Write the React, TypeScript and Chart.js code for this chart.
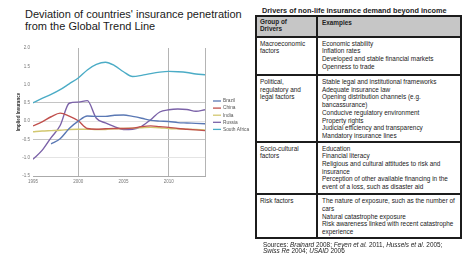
import React, { useEffect, useRef } from 'react';
import { Chart, registerables } from 'chart.js';

Chart.register(...registerables);

const years = [1995, 1996, 1997, 1998, 1999, 2000, 2001, 2002, 2003, 2004, 2005, 2006, 2007, 2008, 2009, 2010, 2011, 2012, 2013, 2014];
const xTickYears = [1995, 2000, 2005, 2010, 2014];
const xTickLabels = ['1995', '2000', '2005', '2010', ''];
const seriesNames = ['Brazil', 'China', 'India', 'Russia', 'South Africa'];
const seriesColors = ['#5a78b4', '#c0504d', '#d2c870', '#7b62a8', '#4bacc6'];

const brazil = [null, null, -0.62, -0.48, -0.2, 0.0, 0.14, 0.13, 0.13, 0.16, 0.17, 0.13, 0.08, 0.02, 0.0, -0.01, -0.04, -0.05, -0.06, -0.07];
const china = [-0.13, -0.02, 0.12, 0.22, 0.14, 0.01, -0.2, -0.22, -0.21, -0.2, -0.2, -0.19, -0.15, -0.13, -0.15, -0.17, -0.2, -0.22, -0.24, -0.26];
const india = [-0.29, -0.27, -0.26, -0.25, -0.23, -0.22, -0.22, -0.23, -0.23, -0.21, -0.2, -0.19, -0.18, -0.17, -0.18, -0.2, -0.21, -0.22, -0.23, -0.24];
const russia = [-1.04, -0.8, -0.45, -0.12, 0.49, 0.52, 0.56, 0.08, -0.05, -0.15, -0.23, -0.22, -0.14, 0.04, 0.25, 0.31, 0.33, 0.32, 0.27, 0.31];
const southAfrica = [0.5, 0.62, 0.73, 0.86, 1.02, 1.18, 1.4, 1.55, 1.61, 1.52, 1.35, 1.22, 1.25, 1.3, 1.34, 1.36, 1.35, 1.33, 1.29, 1.27];

const allSeries = [brazil, china, india, russia, southAfrica];

const tableTitle = 'Drivers of non-life insurance demand beyond income';
const headerGroup = ['Group of', 'Drivers'];
const headerExamples = 'Examples';
const rowGroups = [
  ['Macroeconomic', 'factors'],
  ['Political,', 'regulatory and', 'legal factors'],
  ['Socio-cultural', 'factors'],
  ['Risk factors'],
];
const rowExamples = [
  ['Economic stability', 'Inflation rates', 'Developed and stable financial markets', 'Openness to trade'],
  ['Stable legal and institutional frameworks', 'Adequate insurance law', 'Opening distribution channels (e.g.', 'bancassurance)', 'Conducive regulatory environment', 'Property rights', 'Judicial efficiency and transparency', 'Mandatory insurance lines'],
  ['Education', 'Financial literacy', 'Religious and cultural attitudes to risk and', 'insurance', 'Perception of other available financing in the', 'event of a loss, such as disaster aid'],
  ['The nature of exposure, such as the number of', 'cars', 'Natural catastrophe exposure', 'Risk awareness linked with recent catastrophe', 'experience'],
];

const miniLegend = {
  id: 'miniLegend',
  afterDraw(chart: any) {
    const { ctx, chartArea } = chart;
    ctx.save();
    ctx.font = '4.8px "Liberation Sans", Arial, sans-serif';
    ctx.textBaseline = 'middle';
    chart.data.datasets.forEach((ds: any, i: number) => {
      const y = chartArea.top + 53 + i * 7.1;
      const x0 = chartArea.right + 8;
      ctx.strokeStyle = ds.borderColor;
      ctx.lineWidth = 1.3;
      ctx.beginPath();
      ctx.moveTo(x0, y);
      ctx.lineTo(x0 + 8, y);
      ctx.stroke();
      ctx.fillStyle = '#555';
      ctx.fillText(ds.label, x0 + 10, y);
    });
    ctx.restore();
  },
};

function ChartBox() {
  const ref = useRef<HTMLCanvasElement | null>(null);
  useEffect(() => {
    if (!ref.current) return;
    const chart = new Chart(ref.current, {
      type: 'line',
      data: {
        datasets: seriesNames.map((name, i) => ({
          label: name,
          data: years.map((yr, j) => ({ x: yr, y: allSeries[i][j] })),
          borderColor: seriesColors[i],
          backgroundColor: seriesColors[i],
          borderWidth: 1.4,
          pointRadius: 0,
          cubicInterpolationMode: 'monotone',
          spanGaps: false,
        })),
      },
      options: {
        animation: false,
        responsive: false,
        devicePixelRatio: 1,
        layout: { padding: { left: 16, top: 8, right: 51, bottom: 0 } },
        plugins: { legend: { display: false }, tooltip: { enabled: false } },
        scales: {
          x: {
            type: 'linear',
            min: 1995,
            max: 2014,
            afterBuildTicks: (s: any) => {
              s.ticks = xTickYears.map((v) => ({ value: v }));
            },
            afterFit: (s: any) => {
              s.height = 24;
            },
            ticks: {
              autoSkip: false,
              maxRotation: 0,
              padding: 3,
              color: '#777',
              font: { size: 4.5, family: '"Liberation Sans", Arial, sans-serif' },
              callback: (v: any) => {
                const k = xTickYears.indexOf(Number(v));
                return k >= 0 ? xTickLabels[k] : '';
              },
            },
            grid: {
              drawTicks: false,
              lineWidth: 1,
              color: (c: any) => {
                const v = c.tick ? c.tick.value : null;
                return v === 2000 || v === 2010 || v === 2014 ? '#b4b4b4' : 'rgba(0,0,0,0)';
              },
            },
            border: { color: '#aaaaaa' },
          },
          y: {
            min: -1.5,
            max: 2.0,
            afterFit: (s: any) => {
              s.width = 17;
            },
            ticks: {
              stepSize: 0.5,
              padding: 3,
              color: '#777',
              font: { size: 4.5, family: '"Liberation Sans", Arial, sans-serif' },
              callback: (v: any) => Number(v).toFixed(1),
            },
            title: {
              display: true,
              text: 'Implied Insurance',
              color: '#333',
              padding: 0,
              font: { size: 4.5, weight: 'bold', family: '"Liberation Sans", Arial, sans-serif' },
            },
            grid: {
              drawTicks: false,
              color: (c: any) => {
                const v = c.tick ? Math.round(c.tick.value * 10) / 10 : null;
                if (v === 0.5 || v === -0.5) return '#c4c4c4';
                if (v === -1 || v === 0) return '#e4e4e4';
                return 'rgba(0,0,0,0)';
              },
            },
            border: { display: false },
          },
        },
      },
      plugins: [miniLegend],
    } as any);
    return () => chart.destroy();
  }, []);
  return (
    <canvas
      ref={ref}
      width={256}
      height={160}
      style={{ position: 'absolute', left: 0, top: 40, width: 256, height: 160 }}
    />
  );
}

const LINE = '#1c1c1c';

function HLine({ y, x1, x2, t = 2 }: { y: number; x1: number; x2: number; t?: number }) {
  return <div style={{ position: 'absolute', left: x1, top: y - t / 2, width: x2 - x1, height: t, background: LINE }} />;
}
function VLine({ x, y1, y2, t = 2 }: { x: number; y1: number; y2: number; t?: number }) {
  return <div style={{ position: 'absolute', left: x - t / 2, top: y1, width: t, height: y2 - y1, background: LINE }} />;
}

const rowTops = [37, 75, 142, 194];
const rowPad = [2.5, 3, 2.6, 3.3];

function Table() {
  const cellText: React.CSSProperties = {
    position: 'absolute',
    fontSize: 6.4,
    lineHeight: '7.7px',
    color: '#222',
    whiteSpace: 'nowrap',
  };
  return (
    <>
      <div style={{ position: 'absolute', left: 262, top: 6.5, fontSize: 7.3, lineHeight: '7px', fontWeight: 'bold', color: '#222', whiteSpace: 'nowrap' }}>
        {tableTitle}
      </div>
      <div style={{ position: 'absolute', left: 256, top: 16, width: 205, height: 21, background: '#c6c6c6' }} />
      <div style={{ ...cellText, left: 260, top: 19.4, lineHeight: '6.6px', fontWeight: 'bold' }}>
        {headerGroup.map((t, i) => (
          <div key={i}>{t}</div>
        ))}
      </div>
      <div style={{ ...cellText, left: 322, top: 20, lineHeight: '6.6px', fontWeight: 'bold' }}>{headerExamples}</div>
      {rowGroups.map((g, r) => (
        <div key={'g' + r} style={{ ...cellText, left: 260, top: rowTops[r] + rowPad[r] }}>
          {g.map((t, i) => (
            <div key={i}>{t}</div>
          ))}
        </div>
      ))}
      {rowExamples.map((g, r) => (
        <div key={'e' + r} style={{ ...cellText, left: 322, top: rowTops[r] + rowPad[r] }}>
          {g.map((t, i) => (
            <div key={i}>{t}</div>
          ))}
        </div>
      ))}
      <HLine y={16} x1={255} x2={462} />
      <HLine y={37} x1={255} x2={462} />
      <HLine y={75} x1={255} x2={462} t={1.5} />
      <HLine y={142} x1={255} x2={462} t={1.5} />
      <HLine y={194} x1={255} x2={462} t={1.5} />
      <HLine y={238} x1={255} x2={462} />
      <VLine x={256} y1={15} y2={239} />
      <VLine x={317} y1={15} y2={239} />
      <VLine x={461} y1={15} y2={239} />
      <div style={{ position: 'absolute', left: 263, top: 242, fontSize: 6.4, lineHeight: '6px', color: '#222', whiteSpace: 'nowrap' }}>
        <div>
          Sources: <i>Brainard</i> 2008; <i>Feyen et al.</i> 2011, <i>Hussels et al.</i> 2005;
        </div>
        <div>
          <i>Swiss Re</i> 2004; <i>USAID</i> 2006
        </div>
      </div>
    </>
  );
}

export default function App() {
  return (
    <div
      style={{
        position: 'fixed',
        left: 0,
        top: 0,
        width: 462,
        height: 256,
        overflow: 'hidden',
        background: '#fff',
        fontFamily: '"Liberation Sans", Arial, sans-serif',
      }}
    >
      <div style={{ position: 'absolute', left: 25, top: 8, fontSize: 11, lineHeight: '12px', color: '#1a1a1a', whiteSpace: 'nowrap' }}>
        <div>Deviation of countries' insurance penetration</div>
        <div>from the Global Trend Line</div>
      </div>
      <ChartBox />
      <Table />
    </div>
  );
}
